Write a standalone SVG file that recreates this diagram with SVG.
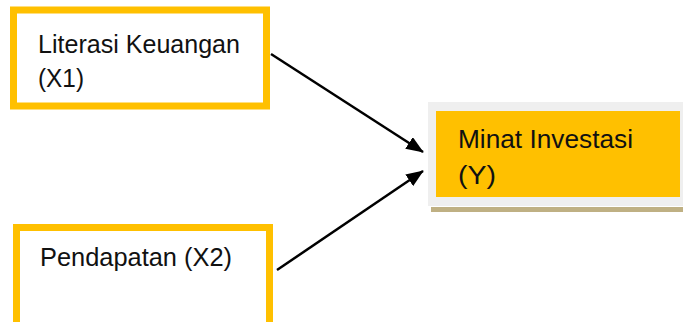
<svg xmlns="http://www.w3.org/2000/svg" width="683" height="322" viewBox="0 0 683 322">
<style>
.box{fill:#FFFFFF;stroke:#FFC000;stroke-width:7}
.lbl{font-family:"Liberation Sans",Arial,sans-serif;font-size:25.5px;fill:#111111}
.conn{stroke:#000000;stroke-width:2.5;fill:none;marker-end:url(#ah)}
</style>
<defs>
<marker id="ah" viewBox="0 0 10 8" refX="9.5" refY="4" markerWidth="7" markerHeight="5.6" markerUnits="strokeWidth" orient="auto">
<path d="M0,0 L10,4 L0,8 z" fill="#000000"/>
</marker>
</defs>
<rect width="683" height="322" fill="#FFFFFF"/>
<g id="node-x1">
<rect class="box" x="13.5" y="10" width="253" height="96"/>
<text class="lbl" x="38" y="53" textLength="202" lengthAdjust="spacingAndGlyphs">Literasi Keuangan</text>
<text class="lbl" x="38" y="87" textLength="46" lengthAdjust="spacingAndGlyphs">(X1)</text>
</g>
<g id="node-x2">
<rect class="box" x="16.5" y="227.5" width="253" height="110"/>
<text class="lbl" x="40" y="266" textLength="192" lengthAdjust="spacingAndGlyphs">Pendapatan (X2)</text>
</g>
<g id="node-y">
<rect x="428" y="102" width="255" height="104" fill="#EFEFEF"/>
<rect x="431" y="207" width="252" height="5" fill="#BFB083"/>
<rect x="436" y="111" width="244" height="86" fill="#FFC000"/>
<text class="lbl" x="458" y="148" textLength="175" lengthAdjust="spacingAndGlyphs">Minat Investasi</text>
<text class="lbl" x="458" y="184" textLength="38" lengthAdjust="spacingAndGlyphs">(Y)</text>
</g>
<g id="connectors">
<line class="conn" x1="271" y1="54" x2="423" y2="152"/>
<line class="conn" x1="277" y1="270" x2="423" y2="171"/>
</g>
</svg>
